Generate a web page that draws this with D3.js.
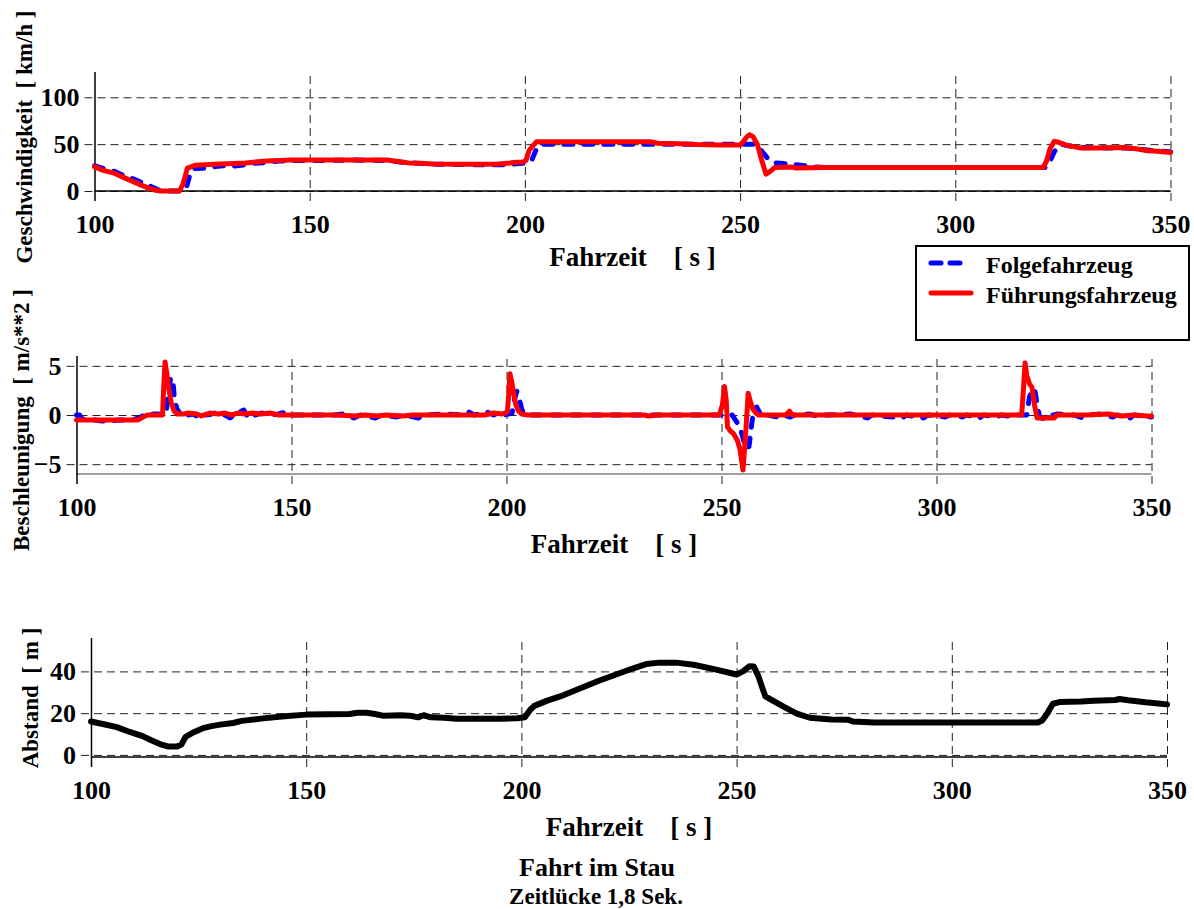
<!DOCTYPE html>
<html>
<head>
<meta charset="utf-8">
<script src="https://cdn.jsdelivr.net/npm/d3@7"></script>
<style>
  body { margin: 0; background: #fff; }
  text { font-family: "Liberation Serif", "Times New Roman", serif; font-weight: bold; fill: #000; }
</style>
</head>
<body>
<svg id="chart" width="1194" height="909"></svg>
<script>
// ---- data: time [s] and measured values ----
const xTicks = [100, 150, 200, 250, 300, 350];
const speedTicks = [0, 50, 100];
const accelTicks = [-5, 0, 5];
const gapTicks = [0, 20, 40];

// Geschwindigkeit [km/h], Führungsfahrzeug
const speedLead = [[100,26],[102,22],[104.6,19],[107,14],[109,10],[111,6],[112.6,3],[114,1],[115.3,0],[119.8,0],[120.6,8],[121.6,24.5],[123.4,27.5],[127.8,28.5],[131,29],[135,30],[140,32],[145.6,33],[150,33],[155,33],[160,33],[165,33],[168,33],[170.5,31.5],[173,30],[176,29.5],[178.6,28.7],[185,28.5],[190,28.5],[193.8,28.7],[196,29.5],[197.4,30.5],[199.6,31],[200.3,33],[201,43.5],[202,49],[202.7,52.5],[206,52.5],[212,52.5],[218,52.5],[224,52.5],[229,52.5],[231,51],[236,50.5],[240,49.5],[245,49],[250,49],[250.8,53],[251.6,58],[252.2,60],[253,58],[254,50],[255,33],[256,18],[257,21],[258,25],[262,25.5],[263,24.5],[270,25],[280,25],[290,25],[300,25],[310,25],[320.4,25],[321.2,32],[322,45],[323,53],[324,52],[325.8,49],[328.9,46],[333,46],[339,46.5],[342,45],[344.7,43],[347,42.5],[350,41]];

// Geschwindigkeit [km/h], Folgefahrzeug
const speedFollow = [[100,27],[102,24],[104.6,21],[107,16],[109,13],[111,9],[113.5,4],[115,1],[116,0],[120.7,0],[121.5,6],[122.3,20],[123,24],[126,24.5],[128,26],[130,27],[132,26.5],[135,28],[137,29.5],[140,30.5],[143,32],[146,32.5],[150,32.5],[160,33],[168,32.5],[171,31],[174,30],[177,29],[180,28.5],[190,28],[195,28],[198,29],[200.5,30],[201.5,32],[202.7,45],[204,50],[210,50],[220,50],[230,50],[240,50],[250,50],[253,50],[254,48],[255.5,40],[256.7,33],[258,30],[259.4,29.6],[263,28],[266.6,26],[270,25],[280,25],[300,25],[321,25],[321.8,30],[323,42],[324.5,50],[326,48.5],[329,46.5],[335,46],[340,46],[343,44.5],[346,43],[350,42]];

// Beschleunigung [m/s**2], Führungsfahrzeug
const accelLead = [[100,-0.5],[104,-0.5],[108,-0.5],[112,-0.5],[114.3,-0.5],[115.5,-0.2],[116.5,0],[120,0],[120.3,3],[120.6,5.4],[121,4.2],[121.5,2.6],[122,1.3],[122.7,0.4],[123.5,0.1],[125,0.1],[126,0.2],[128,0.1],[129,-0.1],[131,0.2],[133,0.1],[134.5,0.2],[136,0],[137.5,0.2],[139,0.1],[141,0.2],[143,0.1],[145,0.2],[147,0],[160,0],[165,-0.1],[167,0],[170,-0.1],[172,0],[176,-0.1],[178,0],[195,0],[197,0.2],[199,0.1],[200.2,0.3],[200.5,2],[200.8,4.2],[201.2,3.4],[201.7,2.1],[202.2,1],[202.8,0.4],[203.5,0.1],[205,0],[215,0],[225,0],[232,0],[233,-0.1],[235,0],[249.5,0],[250.2,1],[250.7,2.9],[251.1,1.5],[251.4,-1.2],[252,-1.6],[252.8,-1.9],[253.7,-2.6],[254.3,-3.5],[255,-5.6],[255.6,-2],[256.2,2.2],[256.7,1.4],[257.3,0.6],[258,0.2],[258.6,0],[265,0],[265.8,0.4],[266.5,0],[280,0],[300,0],[319.8,0],[320.2,2.5],[320.6,5.3],[321,4],[321.6,3.2],[322.2,2.8],[322.8,1],[323.4,-0.3],[324,-0.3],[327.4,-0.3],[328,0],[335,0],[340,0.1],[343,-0.1],[346,0],[349,-0.1],[350,-0.1]];

// Beschleunigung [m/s**2], Folgefahrzeug
const accelFollow = [[100,0],[100.7,0],[101.3,-0.4],[104,-0.5],[106,-0.6],[108,-0.6],[110,-0.5],[113,-0.5],[115,-0.2],[116,0.1],[119,0.1],[120,0],[120.8,0],[121.3,2],[121.9,3.8],[122.4,3.6],[122.8,1.5],[123.4,0.6],[124,0.2],[124.8,0.1],[125.3,0.4],[126,0],[127,0.1],[128.8,-0.3],[130,0],[131.5,0.1],[133.3,0.4],[134.5,0],[135.7,-0.3],[137,0.1],[138.9,0.5],[139.6,0],[140.4,0.4],[141.5,0],[143,0.2],[145,0],[147,0.1],[148.7,0.3],[150,0],[160,0],[162,0.1],[164.5,-0.3],[166,0],[169.5,-0.3],[171,0],[174.5,-0.2],[176,0],[179.5,-0.3],[181,0],[185,0.1],[190,0],[191.3,0.3],[192.5,0],[195.5,0.3],[197,0],[198.2,0.3],[199.5,0],[201.3,0.2],[201.8,1.5],[202.4,2.4],[203,1.6],[203.6,0.5],[204.5,0.1],[205.5,0],[215,0],[235,0],[250,0],[252.5,0],[253.2,-0.5],[254,-1],[254.8,-2],[255.6,-3.4],[256.4,-3.2],[257,-1],[257.5,0.6],[258.2,0.8],[258.8,0.3],[259.6,-0.3],[260.5,0],[263,-0.2],[264,0],[266,-0.2],[267,0],[270.5,0.1],[273,-0.2],[274,0],[280,0.1],[284,-0.3],[285,0],[292,-0.3],[293,0],[297,-0.3],[298,0],[302,-0.2],[303,0],[306,-0.2],[307,0],[310,-0.3],[311,0],[314,-0.2],[315,0],[318,-0.2],[319,0],[321,0],[321.6,1.8],[322.3,2.7],[322.9,2.4],[323.5,0.8],[324,-0.2],[325,-0.4],[326.5,-0.1],[328,0.1],[332,0],[334,-0.3],[335,0],[338,0.1],[341,-0.2],[342,0],[345,-0.3],[346,0],[348,-0.1],[350,-0.2]];

// Abstand [m]
const gap = [[100,16],[103,14.7],[106,13.3],[109,11],[112,9],[114,7],[116,5.2],[118,4],[120,4],[121,5],[122,8.7],[124,11],[126,12.8],[128,13.8],[130,14.5],[133,15.3],[135,16.3],[140,17.5],[145,18.5],[150,19.3],[155,19.5],[160,19.6],[162,20.2],[164,20.2],[166,19.6],[168,18.7],[172,19],[174,18.8],[176,18],[177.3,19],[179,18],[182,17.8],[185,17.3],[190,17.3],[195,17.3],[199,17.6],[200.8,18],[202,21.5],[203,23.5],[206,26],[209,28],[212,30.5],[215,33],[218,35.5],[222,38.5],[226,41.5],[229,43.5],[232,44.2],[236,44.2],[240,43.2],[245,41],[250,38.5],[251.5,40],[253,42.5],[254,42.3],[255,38],[256,32],[256.7,28],[258,26.5],[261,23],[264,19.8],[267,17.8],[272,17],[276,16.8],[277,16],[282,15.5],[290,15.5],[300,15.5],[310,15.5],[320,15.5],[321,16.5],[322.2,20],[323.5,24.5],[325,25.3],[330,25.6],[333,26],[338,26.3],[339,26.8],[341,26.2],[345,25.2],[348,24.6],[350,24.2]];

const seriesNames = ["Folgefahrzeug", "Führungsfahrzeug"];
const xLabel = "Fahrzeit    [ s ]";
const titleText = "Fahrt im Stau";
const subtitleText = "Zeitlücke 1,8 Sek.";

// ---- drawing ----
const svg = d3.select("#chart");
const BLUE = "#0000ff", RED = "#ff0000";

const panels = [
  { x0: 94.5, y0: 72, w: 1076, h: 119, yDomain: [0, 127], yTicks: speedTicks,
    baseColor: "#000", yTitle: "Geschwindigkeit  [ km/h ]", yTitleX: 32, yTitleCY: 137, xTitleY: 266,
    series: [{ data: speedFollow, color: BLUE, dashed: true }, { data: speedLead, color: RED }] },
  { x0: 76.5, y0: 356, w: 1075, h: 118, yDomain: [-6, 6], yTicks: accelTicks,
    baseColor: "#808080", yTitle: "Beschleunigung  [ m/s**2 ]", yTitleX: 29, yTitleCY: 420, xTitleY: 553,
    series: [{ data: accelFollow, color: BLUE, dashed: true }, { data: accelLead, color: RED }] },
  { x0: 91, y0: 638, w: 1076, h: 119, yDomain: [-1, 56], yTicks: gapTicks,
    baseColor: "#000", yTitle: "Abstand  [ m ]", yTitleX: 38, yTitleCY: 698, xTitleY: 836,
    series: [{ data: gap, color: "#000", width: 6 }] }
];

panels.forEach(p => {
  const g = svg.append("g").attr("transform", `translate(${p.x0},${p.y0})`);
  const x = d3.scaleLinear().domain([100, 350]).range([0, p.w]);
  const y = d3.scaleLinear().domain(p.yDomain).range([p.h, 0]);

  // horizontal grid lines with tick stubs left of the axis
  const yAxis = g.append("g").attr("transform", "translate(-10,0)")
    .call(d3.axisLeft(y).tickValues(p.yTicks).tickSize(-(p.w + 10)).tickPadding(5).tickFormat(d3.format("d")));
  yAxis.select(".domain").remove();
  yAxis.selectAll(".tick line").attr("stroke", "#222").attr("stroke-width", 1).attr("stroke-dasharray", "8,5");
  yAxis.selectAll(".tick text").style("font-size", "26px").style("font-family", null);

  // baseline of the plot area
  g.append("line").attr("x1", 0).attr("x2", p.w).attr("y1", p.h).attr("y2", p.h)
    .attr("stroke", p.baseColor).attr("stroke-width", 1.5);

  // vertical grid lines; the first one is the solid y axis
  const xAxis = g.append("g").attr("transform", `translate(0,${p.h + 10})`)
    .call(d3.axisBottom(x).tickValues(xTicks).tickSize(-(p.h + 10)).tickPadding(14).tickFormat(d3.format("d")));
  xAxis.select(".domain").remove();
  xAxis.selectAll(".tick line")
    .attr("stroke-dasharray", d => d === 100 ? null : "8,5")
    .attr("stroke-width", d => d === 100 ? 1.5 : 1)
    .attr("stroke", d => d === 100 ? "#000" : "#222");
  xAxis.selectAll(".tick text").style("font-size", "26px").style("font-family", null);

  // data lines
  const line = d3.line().x(d => x(d[0])).y(d => y(d[1]));
  p.series.forEach(s => {
    g.append("path").datum(s.data)
      .attr("d", line)
      .attr("fill", "none")
      .attr("stroke", s.color)
      .attr("stroke-width", s.width || 5)
      .attr("stroke-linejoin", "round")
      .attr("stroke-linecap", "round")
      .attr("stroke-dasharray", s.dashed ? "9,11" : null);
  });

  // axis titles
  svg.append("text")
    .attr("x", p.x0 + p.w / 2).attr("y", p.xTitleY)
    .attr("text-anchor", "middle")
    .style("font-size", "27px").style("white-space", "pre")
    .text(xLabel);
  svg.append("text")
    .attr("transform", `translate(${p.yTitleX},${p.yTitleCY}) rotate(-90)`)
    .attr("text-anchor", "middle")
    .style("font-size", "23px").style("white-space", "pre")
    .text(p.yTitle);
});

// legend
const legend = svg.append("g").attr("transform", "translate(916,246)");
legend.append("rect").attr("width", 273).attr("height", 94)
  .attr("fill", "#fff").attr("stroke", "#000").attr("stroke-width", 2);
const legendItems = [
  { name: seriesNames[0], color: BLUE, dashed: true },
  { name: seriesNames[1], color: RED, dashed: false }
];
legendItems.forEach((d, i) => {
  const yy = 17 + i * 30;
  legend.append("line").attr("x1", 15).attr("x2", d.dashed ? 47 : 55)
    .attr("y1", yy).attr("y2", yy)
    .attr("stroke", d.color).attr("stroke-width", 5).attr("stroke-linecap", "round")
    .attr("stroke-dasharray", d.dashed ? "10,9" : null);
  legend.append("text").attr("x", 70).attr("y", yy + 10)
    .style("font-size", "24px").text(d.name);
});

// titles
svg.append("text").attr("x", 597).attr("y", 876).attr("text-anchor", "middle")
  .style("font-size", "26px").text(titleText);
svg.append("text").attr("x", 596).attr("y", 904).attr("text-anchor", "middle")
  .style("font-size", "23px").text(subtitleText);
</script>
</body>
</html>
